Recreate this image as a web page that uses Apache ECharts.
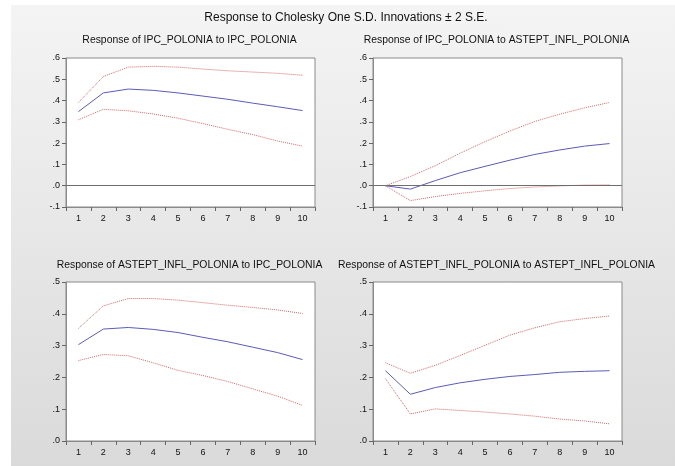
<!DOCTYPE html>
<html>
<head>
<meta charset="utf-8">
<script src="https://cdn.jsdelivr.net/npm/echarts@6/dist/echarts.min.js"></script>
<style>
  html, body { margin: 0; padding: 0; background: #fff; }
  #bg {
    position: absolute; left: 11px; top: 5px; width: 664px; height: 461px;
    background: linear-gradient(to bottom, #f4f4f4, #dadada);
  }
  #main { position: absolute; left: 0; top: 0; width: 675px; height: 466px; }
</style>
</head>
<body>
<div id="bg"></div>
<div id="main"></div>
<script>
// periods on the x axis
var periods = ['1', '2', '3', '4', '5', '6', '7', '8', '9', '10'];

// IPC_POLONIA -> IPC_POLONIA
var ipcIpc = [0.348, 0.436, 0.454, 0.448, 0.436, 0.421, 0.406, 0.388, 0.371, 0.353];
var ipcIpcUp = [0.391, 0.513, 0.557, 0.561, 0.557, 0.548, 0.540, 0.534, 0.528, 0.519];
var ipcIpcLo = [0.310, 0.359, 0.352, 0.337, 0.317, 0.292, 0.265, 0.240, 0.210, 0.186];

// IPC_POLONIA -> ASTEPT_INFL_POLONIA
var ipcInfl = [0, -0.016, 0.024, 0.061, 0.091, 0.120, 0.147, 0.168, 0.186, 0.198];
var ipcInflUp = [0, 0.043, 0.094, 0.153, 0.207, 0.257, 0.302, 0.336, 0.366, 0.391];
var ipcInflLo = [0, -0.070, -0.051, -0.036, -0.024, -0.013, -0.006, -0.001, 0.003, 0.004];

// ASTEPT_INFL_POLONIA -> IPC_POLONIA
var inflIpc = [0.303, 0.352, 0.357, 0.351, 0.341, 0.326, 0.312, 0.295, 0.278, 0.256];
var inflIpcUp = [0.354, 0.425, 0.448, 0.448, 0.443, 0.435, 0.427, 0.420, 0.412, 0.401];
var inflIpcLo = [0.253, 0.272, 0.268, 0.246, 0.222, 0.206, 0.187, 0.164, 0.141, 0.112];

// ASTEPT_INFL_POLONIA -> ASTEPT_INFL_POLONIA
var inflInfl = [0.221, 0.147, 0.168, 0.183, 0.194, 0.203, 0.209, 0.216, 0.219, 0.221];
var inflInflUp = [0.246, 0.213, 0.238, 0.269, 0.301, 0.333, 0.356, 0.375, 0.385, 0.393];
var inflInflLo = [0.196, 0.085, 0.101, 0.096, 0.091, 0.085, 0.078, 0.069, 0.063, 0.054];

var mainTitle = 'Response to Cholesky One S.D. Innovations \u00b1 2 S.E.';
var panelTitles = [
    'Response of IPC_POLONIA to IPC_POLONIA',
    'Response of IPC_POLONIA to ASTEPT_INFL_POLONIA',
    'Response of ASTEPT_INFL_POLONIA to IPC_POLONIA',
    'Response of ASTEPT_INFL_POLONIA to ASTEPT_INFL_POLONIA'
];

var panels = [
    { mid: ipcIpc, up: ipcIpcUp, lo: ipcIpcLo, min: -0.1, max: 0.6, zero: true,
      grid: { left: 66, top: 58, width: 249, height: 149 } },
    { mid: ipcInfl, up: ipcInflUp, lo: ipcInflLo, min: -0.1, max: 0.6, zero: true,
      grid: { left: 373, top: 58, width: 249, height: 149 } },
    { mid: inflIpc, up: inflIpcUp, lo: inflIpcLo, min: 0, max: 0.5, zero: false,
      grid: { left: 66, top: 282, width: 249, height: 159 } },
    { mid: inflInfl, up: inflInflUp, lo: inflInflLo, min: 0, max: 0.5, zero: false,
      grid: { left: 373, top: 282, width: 249, height: 159 } }
];

function fmt(v) {
    var s = Math.abs(v).toFixed(1).replace(/^0/, '');
    return (v < -1e-9 ? '-' : '') + s;
}

var myChart = echarts.init(document.getElementById('main'));

var grids = [], xAxes = [], yAxes = [], series = [];
var titles = [{
    text: mainTitle, left: 346, top: 12, textAlign: 'center', padding: 0,
    textStyle: { fontFamily: 'Liberation Sans', fontSize: 12, fontWeight: 'normal', color: '#111' }
}];

panels.forEach(function (p, i) {
    grids.push(Object.assign({ show: true, backgroundColor: '#fff', borderColor: '#8a8a8a', borderWidth: 1 }, p.grid));
    titles.push({
        text: panelTitles[i],
        left: p.grid.left + p.grid.width / 2 - 1,
        top: p.grid.top - (i < 2 ? 23 : 22),
        textAlign: 'center',
        padding: 0,
        textStyle: { fontFamily: 'Liberation Sans', fontSize: 10.4, fontWeight: 'normal', color: '#111' }
    });
    xAxes.push({
        type: 'category', gridIndex: i, data: periods, boundaryGap: true,
        axisLine: { onZero: false, lineStyle: { color: '#8a8a8a' } },
        axisTick: { show: true, length: 4, lineStyle: { color: '#666' } },
        axisLabel: { margin: 7, fontSize: 9, fontFamily: 'Liberation Sans', color: '#111' },
        splitLine: { show: false }
    });
    yAxes.push({
        type: 'value', gridIndex: i, min: p.min, max: p.max, interval: 0.1,
        axisLine: { show: true, lineStyle: { color: '#8a8a8a' } },
        axisTick: { show: true, length: 4, lineStyle: { color: '#666' } },
        axisLabel: { margin: 6, fontSize: 9, fontFamily: 'Liberation Sans', color: '#111', formatter: fmt },
        splitLine: { show: false }
    });
    var mid = {
        type: 'line', xAxisIndex: i, yAxisIndex: i, data: p.mid, symbol: 'none',
        lineStyle: { color: '#5c5cb8', width: 1 }, z: 3, silent: true
    };
    if (p.zero) {
        mid.markLine = {
            silent: true, symbol: 'none', label: { show: false },
            lineStyle: { color: '#6e6e6e', type: 'solid', width: 1 },
            data: [{ yAxis: 0 }]
        };
    }
    series.push(mid);
    [p.up, p.lo].forEach(function (band) {
        series.push({
            type: 'line', xAxisIndex: i, yAxisIndex: i, data: band, symbol: 'none',
            lineStyle: { color: '#d46a6a', width: 1, type: 'dotted' }, z: 2, silent: true
        });
    });
});

var option = {
    animation: false,
    title: titles,
    grid: grids,
    xAxis: xAxes,
    yAxis: yAxes,
    series: series
};

option && myChart.setOption(option);
</script>
</body>
</html>
